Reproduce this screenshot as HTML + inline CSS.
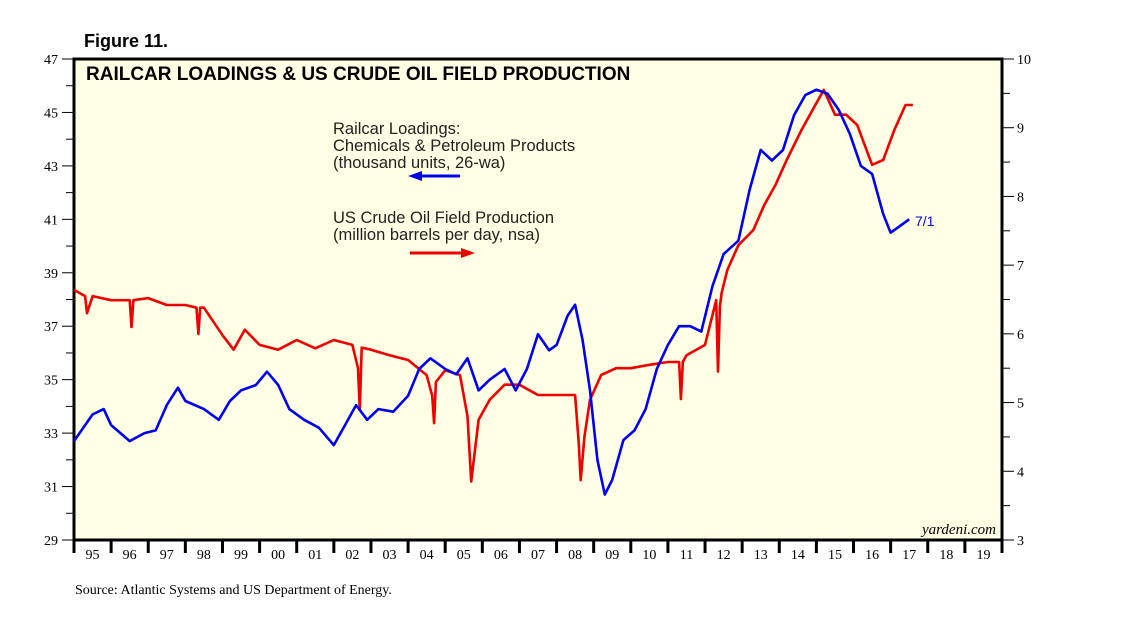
<!DOCTYPE html>
<html><head><meta charset="utf-8"><style>
body{margin:0;background:#fff;width:1138px;height:621px;overflow:hidden;font-family:"Liberation Sans",sans-serif}
</style></head><body>
<svg id="c" width="1138" height="621" xmlns="http://www.w3.org/2000/svg">
<text x="84" y="47" font-size="18" font-weight="bold">Figure 11.</text>
<rect x="74" y="59" width="928" height="481" fill="#ffffe5" stroke="#000" stroke-width="3"/>
<text x="86" y="80" font-size="19" font-weight="bold">RAILCAR LOADINGS &amp; US CRUDE OIL FIELD PRODUCTION</text>
<g id="axes"></g>
<g id="series"></g>
<text x="333" y="134" font-size="16.5" fill="#222"><tspan x="333">Railcar Loadings:</tspan><tspan x="333" dy="17">Chemicals &amp; Petroleum Products</tspan><tspan x="333" dy="17">(thousand units, 26-wa)</tspan></text>
<line x1="460" y1="176" x2="420" y2="176" stroke="#0000ee" stroke-width="3"/>
<polygon points="408,176 422,171 422,181" fill="#0000ee"/>
<text x="333" y="223" font-size="16.5" fill="#222"><tspan x="333">US Crude Oil Field Production</tspan><tspan x="333" dy="17">(million barrels per day, nsa)</tspan></text>
<line x1="410" y1="253" x2="462" y2="253" stroke="#ee0000" stroke-width="3"/>
<polygon points="475,253 461,248 461,258" fill="#ee0000"/>
<text x="915" y="226" font-size="14" fill="#0000ee">7/1</text>
<text x="996" y="534" font-size="15" font-style="italic" font-family="Liberation Serif,serif" text-anchor="end">yardeni.com</text>
<text x="75" y="594" font-size="14" font-family="Liberation Serif,serif">Source: Atlantic Systems and US Department of Energy.</text>
</svg>
<script>
const years=["95","96","97","98","99","00","01","02","03","04","05","06","07","08","09","10","11","12","13","14","15","16","17","18","19"];
const leftTicks=[29,31,33,35,37,39,41,43,45,47];
const rightTicks=[3,4,5,6,7,8,9,10];
const blueT=[1995.0,1995.5,1995.8,1996.0,1996.5,1996.9,1997.2,1997.5,1997.8,1998.0,1998.5,1998.9,1999.2,1999.5,1999.9,2000.2,2000.5,2000.8,2001.2,2001.6,2002.0,2002.3,2002.6,2002.9,2003.2,2003.6,2004.0,2004.3,2004.6,2005.0,2005.3,2005.6,2005.9,2006.2,2006.6,2006.9,2007.2,2007.5,2007.8,2008.0,2008.3,2008.5,2008.7,2008.9,2009.1,2009.3,2009.5,2009.8,2010.1,2010.4,2010.7,2011.0,2011.3,2011.6,2011.9,2012.2,2012.5,2012.9,2013.2,2013.5,2013.8,2014.1,2014.4,2014.7,2015.0,2015.3,2015.6,2015.9,2016.2,2016.5,2016.8,2017.0,2017.3,2017.5];
const blueV=[32.7,33.7,33.9,33.3,32.7,33.0,33.1,34.05,34.7,34.2,33.9,33.5,34.2,34.6,34.8,35.3,34.8,33.9,33.5,33.2,32.55,33.3,34.05,33.5,33.9,33.8,34.4,35.4,35.8,35.4,35.2,35.8,34.6,35.0,35.4,34.6,35.4,36.7,36.1,36.3,37.4,37.8,36.5,34.6,32.0,30.7,31.25,32.74,33.1,33.9,35.4,36.3,37.0,37.0,36.8,38.5,39.7,40.2,42.1,43.6,43.2,43.6,44.9,45.65,45.85,45.7,45.1,44.2,43.0,42.7,41.2,40.5,40.8,41.0];
const redT=[1995.0,1995.3,1995.35,1995.5,1996.0,1996.5,1996.55,1996.6,1997.0,1997.5,1998.0,1998.3,1998.35,1998.4,1998.5,1999.0,1999.3,1999.6,2000.0,2000.5,2001.0,2001.5,2002.0,2002.5,2002.65,2002.7,2002.75,2003.0,2003.5,2004.0,2004.5,2004.65,2004.7,2004.75,2005.0,2005.4,2005.6,2005.7,2005.9,2006.2,2006.6,2007.0,2007.5,2008.0,2008.5,2008.6,2008.65,2008.75,2008.9,2009.2,2009.6,2010.0,2010.5,2011.0,2011.3,2011.35,2011.4,2011.5,2012.0,2012.3,2012.35,2012.4,2012.45,2012.6,2012.9,2013.3,2013.6,2013.9,2014.2,2014.6,2014.9,2015.2,2015.5,2015.8,2016.1,2016.5,2016.8,2017.1,2017.4,2017.6];
const redV=[6.64,6.55,6.3,6.55,6.49,6.49,6.1,6.49,6.52,6.42,6.42,6.38,6.0,6.38,6.38,5.98,5.77,6.06,5.84,5.77,5.91,5.79,5.91,5.84,5.5,4.9,5.8,5.77,5.69,5.62,5.40,5.1,4.7,5.3,5.47,5.40,4.8,3.85,4.75,5.04,5.26,5.26,5.11,5.11,5.11,4.4,3.87,4.5,5.04,5.40,5.50,5.50,5.55,5.59,5.59,5.05,5.59,5.69,5.84,6.49,5.45,6.4,6.6,6.93,7.29,7.51,7.88,8.17,8.53,8.97,9.26,9.55,9.19,9.19,9.04,8.46,8.53,8.97,9.33,9.33];
const X0=74,X1=1002,Y0=59,Y1=540;
const xs=t=>X0+(t-1995)*(X1-X0)/25;
const yl=v=>Y1-(v-29)*(Y1-Y0)/18;
const yr=v=>Y1-(v-3)*(Y1-Y0)/7;
const NS="http://www.w3.org/2000/svg";
const ax=document.getElementById('axes'),se=document.getElementById('series');
function mk(tag,at,par){const e=document.createElementNS(NS,tag);for(const k in at)e.setAttribute(k,at[k]);par.appendChild(e);return e;}
leftTicks.forEach(v=>{const y=yl(v);
 const l=mk('line',{x1:62,x2:74,y1:y,y2:y,stroke:'#000'},ax);
 
 
 if(v<47){const m=mk('line',{x1:66,x2:74,y1:yl(v+1),y2:yl(v+1),stroke:'#000'},ax);
 
 }
 const t=mk('text',{x:58,y:y+5,'text-anchor':'end','font-size':14,'font-family':'Liberation Serif,serif'},ax);t.textContent=v;
 
 });
rightTicks.forEach(v=>{const y=yr(v);
 const l=mk('line',{x1:1002,x2:1014,y1:y,y2:y,stroke:'#000'},ax);
 
 
 if(v<10){const m=mk('line',{x1:1002,x2:1010,y1:yr(v+0.5),y2:yr(v+0.5),stroke:'#000'},ax);
 
 }
 const t=mk('text',{x:1017,y:y+5,'font-size':14,'font-family':'Liberation Serif,serif'},ax);t.textContent=v;
 
 });
for(let i=0;i<=25;i++){const x=xs(1995+i);
 const l=mk('line',{x1:x,x2:x,y1:540,y2:553,stroke:'#000','stroke-width':3},ax);
 
 }
years.forEach((yv,i)=>{const t=mk('text',{x:xs(1995.5+i),y:559,'text-anchor':'middle','font-size':14,'font-family':'Liberation Serif,serif'},ax);t.textContent=yv;
 
 });
const rp=mk('path',{d:redT.map((t,i)=>(i?'L':'M')+xs(t).toFixed(1)+','+yr(redV[i]).toFixed(1)).join(''),fill:'none',stroke:'#ee0000','stroke-width':2.6,'stroke-linejoin':'round'},se);


const bp=mk('path',{d:blueT.map((t,i)=>(i?'L':'M')+xs(t).toFixed(1)+','+yl(blueV[i]).toFixed(1)).join(''),fill:'none',stroke:'#0000ee','stroke-width':2.6,'stroke-linejoin':'round'},se);


</script>
</body></html>
